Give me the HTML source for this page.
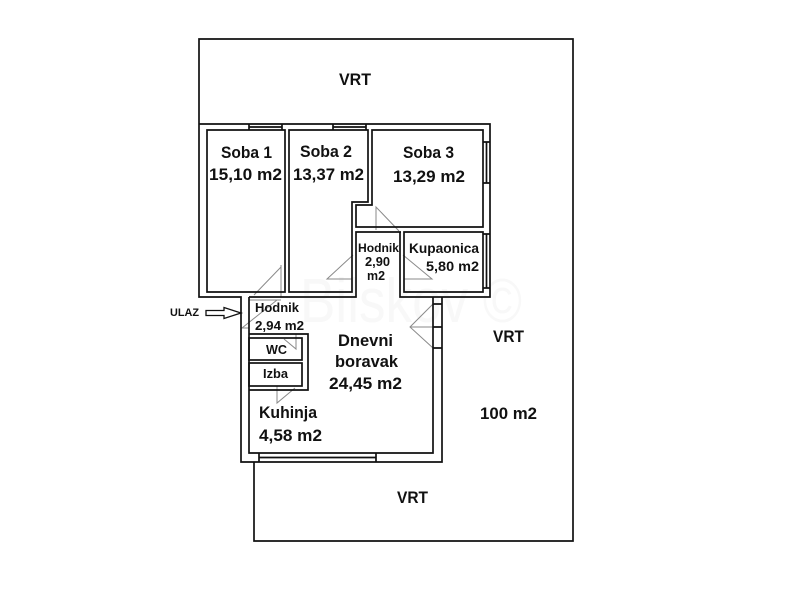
<!DOCTYPE html>
<html><head><meta charset="utf-8">
<style>html,body{margin:0;padding:0;background:#fff}svg{display:block;filter:blur(0.35px)}
text{font-family:"Liberation Sans",sans-serif;font-weight:bold;fill:#111}</style></head>
<body>
<svg width="800" height="600" viewBox="0 0 800 600" xmlns="http://www.w3.org/2000/svg">
<text x="300" y="322" font-size="62" textLength="222" lengthAdjust="spacingAndGlyphs" style="fill:#f8f8f8;font-weight:normal">Bilskov ©</text>
<g fill="none" stroke="#8a8a8a" stroke-width="1">
<path d="M281 265V297M281 267L254 295"/>
<path d="M277 300L242 328H249M249 300H281"/>
<path d="M296 334V349L284 339"/>
<path d="M277 386V403L295 388"/>
<path d="M376 230V207L399 231"/>
<path d="M352 279H327L353 255"/>
<path d="M404 279H432L403 255"/>
<path d="M433 304L410 327L433 348M410 327H433"/>
</g>
<g fill="none" stroke="#111" stroke-width="1.7">
<path d="M199 124V39H573V541H254V462"/>
<path d="M199 124H490V297H400V232M199 124V297H241V462H442V297"/>
<path d="M249 297H356V232H401"/>
<path d="M207 130H285V292H207Z"/>
<path d="M289 130H368V202H352V292H289Z"/>
<path d="M372 130H483V227H356V205H372Z"/>
<path d="M404 232H483V292H404Z"/>
<path d="M249 297V453H433V297"/>
<path d="M249 334H308V390H249"/>
<rect x="249" y="338" width="53" height="22"/>
<rect x="249" y="363" width="53" height="23"/>
<path d="M249 124V130M282 124V130M249 127H282"/>
<path d="M333 124V130M366 124V130M333 127H366"/>
<path d="M483 142H490M483 183H490M486.5 142V183"/>
<path d="M483 234H490M483 288H490M486.5 234V288"/>
<path d="M433 304H442M433 327H442M433 348H442"/>
<path d="M259 453V462M376 453V462M259 457.5H376"/>
<path d="M206 310.500H224V307.500L241 313L224 318.500V315.500H206Z" stroke-width="1.300"/>
</g>
<g font-size="17" lengthAdjust="spacingAndGlyphs">
<text lengthAdjust="spacingAndGlyphs" x="221" y="158" textLength="51">Soba 1</text>
<text lengthAdjust="spacingAndGlyphs" x="209" y="180" textLength="73">15,10 m2</text>
<text lengthAdjust="spacingAndGlyphs" x="300" y="157" textLength="52">Soba 2</text>
<text lengthAdjust="spacingAndGlyphs" x="293" y="180" textLength="71">13,37 m2</text>
<text lengthAdjust="spacingAndGlyphs" x="403" y="158" textLength="51">Soba 3</text>
<text lengthAdjust="spacingAndGlyphs" x="393" y="182" textLength="72">13,29 m2</text>
<text lengthAdjust="spacingAndGlyphs" x="338" y="346" textLength="55">Dnevni</text>
<text lengthAdjust="spacingAndGlyphs" x="335" y="367" textLength="63">boravak</text>
<text lengthAdjust="spacingAndGlyphs" x="329" y="389" textLength="73">24,45 m2</text>
<text lengthAdjust="spacingAndGlyphs" x="259" y="418" textLength="58">Kuhinja</text>
<text lengthAdjust="spacingAndGlyphs" x="259" y="441" textLength="63">4,58 m2</text>
<text lengthAdjust="spacingAndGlyphs" x="339" y="85" textLength="32">VRT</text>
<text lengthAdjust="spacingAndGlyphs" x="493" y="342" textLength="31">VRT</text>
<text lengthAdjust="spacingAndGlyphs" x="480" y="419" textLength="57">100 m2</text>
<text lengthAdjust="spacingAndGlyphs" x="397" y="503" textLength="31">VRT</text>
</g>
<g font-size="13">
<text lengthAdjust="spacingAndGlyphs" x="358" y="252" font-size="12" textLength="41">Hodnik</text>
<text lengthAdjust="spacingAndGlyphs" x="365" y="266" textLength="25">2,90</text>
<text lengthAdjust="spacingAndGlyphs" x="367" y="280" textLength="18">m2</text>
<text lengthAdjust="spacingAndGlyphs" x="409" y="253" font-size="14" textLength="70">Kupaonica</text>
<text lengthAdjust="spacingAndGlyphs" x="426" y="271" font-size="14" textLength="53">5,80 m2</text>
<text lengthAdjust="spacingAndGlyphs" x="255" y="312" textLength="44">Hodnik</text>
<text lengthAdjust="spacingAndGlyphs" x="255" y="330" textLength="49">2,94 m2</text>
<text lengthAdjust="spacingAndGlyphs" x="266" y="354" textLength="21">WC</text>
<text lengthAdjust="spacingAndGlyphs" x="263" y="378" textLength="25">Izba</text>
<text lengthAdjust="spacingAndGlyphs" x="170" y="316" font-size="11" textLength="29">ULAZ</text>
</g>
</svg>
</body></html>
